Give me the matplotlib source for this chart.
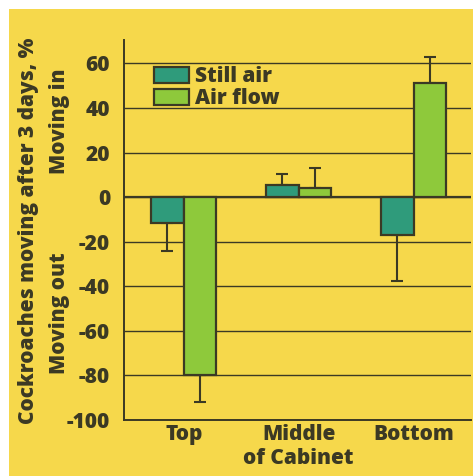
import numpy as np
import matplotlib.pyplot as plt
from matplotlib.patches import Rectangle

groups = ['Top', 'Middle', 'Bottom']
still_air = [-11.7, 5.3, -16.8]
still_err = [12.3, 5.2, 20.7]
air_flow = [-80, 4.2, 51.3]
air_err = [12, 9.0, 11.4]
yticks = [60, 40, 20, 0, -20, -40, -60, -80, -100]

bg = '#f6d84b'
ink = '#3b3924'
teal = '#2f9b7b'
green = '#8ec93b'
fs = 15
wt = 'heavy'

plt.rcParams['font.family'] = ['Open Sans', 'DejaVu Sans']

fig = plt.figure(figsize=(4.73, 4.76), dpi=100)
fig.patch.set_facecolor('white')
fig.patches.append(Rectangle((9 / 473, 0), 1, 1 - 9 / 476, transform=fig.transFigure,
                             facecolor=bg, edgecolor='none', zorder=-10))

ax = fig.add_axes([124 / 473, 56 / 476, (471 - 124) / 473, 380 / 476])
ax.set_facecolor('none')

x = np.arange(len(groups))
w = 0.284


def one_sided(vals, errs):
    lo = [e if v < 0 else 0 for v, e in zip(vals, errs)]
    hi = [e if v >= 0 else 0 for v, e in zip(vals, errs)]
    return [lo, hi]


ax.bar(x - w / 2, still_air, w, color=teal, edgecolor=ink, linewidth=1.6,
       label='Still air', zorder=3)
ax.bar(x + w / 2, air_flow, w, color=green, edgecolor=ink, linewidth=1.6,
       label='Air flow', zorder=3)
ax.errorbar(x - w / 2, still_air, yerr=one_sided(still_air, still_err), fmt='none',
            ecolor=ink, elinewidth=1.5, capsize=4, capthick=1.5, zorder=2)
ax.errorbar(x + w / 2, air_flow, yerr=one_sided(air_flow, air_err), fmt='none',
            ecolor=ink, elinewidth=1.5, capsize=4, capthick=1.5, zorder=2)

ax.set_ylim(-100, 70.5)
ax.set_xlim(-0.52, 2.5)
ax.set_yticks(yticks)
ax.set_yticklabels([str(t) for t in yticks], fontsize=fs, color=ink, fontweight=wt)
ax.tick_params(axis='y', length=0, pad=10)
ax.set_xticks(x)
ax.set_xticklabels(groups, fontsize=fs, color=ink, fontweight=wt)
ax.tick_params(axis='x', length=0, pad=3)
ax.grid(axis='y', color=ink, linewidth=1.0, zorder=0)
ax.axhline(0, color=ink, linewidth=1.6, zorder=1)

for s in ['top', 'right']:
    ax.spines[s].set_visible(False)
for s in ['left', 'bottom']:
    ax.spines[s].set_color(ink)
    ax.spines[s].set_linewidth(1.4)

fig.text(298 / 473, 1 - 459 / 476, 'of Cabinet', ha='center', va='center',
         fontsize=fs, color=ink, fontweight=wt)
fig.text(29 / 473, 1 - 231 / 476, 'Cockroaches moving after 3 days, %', rotation=90,
         ha='center', va='center', fontsize=fs, color=ink, fontweight=wt)
fig.text(59 / 473, 1 - 121 / 476, 'Moving in', rotation=90,
         ha='center', va='center', fontsize=fs, color=ink, fontweight=wt)
fig.text(59 / 473, 1 - 313 / 476, 'Moving out', rotation=90,
         ha='center', va='center', fontsize=fs, color=ink, fontweight=wt)

leg = ax.legend(loc='upper left', bbox_to_anchor=(0.063, 0.953), frameon=False,
                prop={'size': fs, 'weight': wt}, handlelength=1.65, handleheight=0.85,
                handletextpad=0.3, labelspacing=0.05, borderaxespad=0)
for t in leg.get_texts():
    t.set_color(ink)

fig.savefig('out.png', dpi=100, facecolor=fig.get_facecolor())
